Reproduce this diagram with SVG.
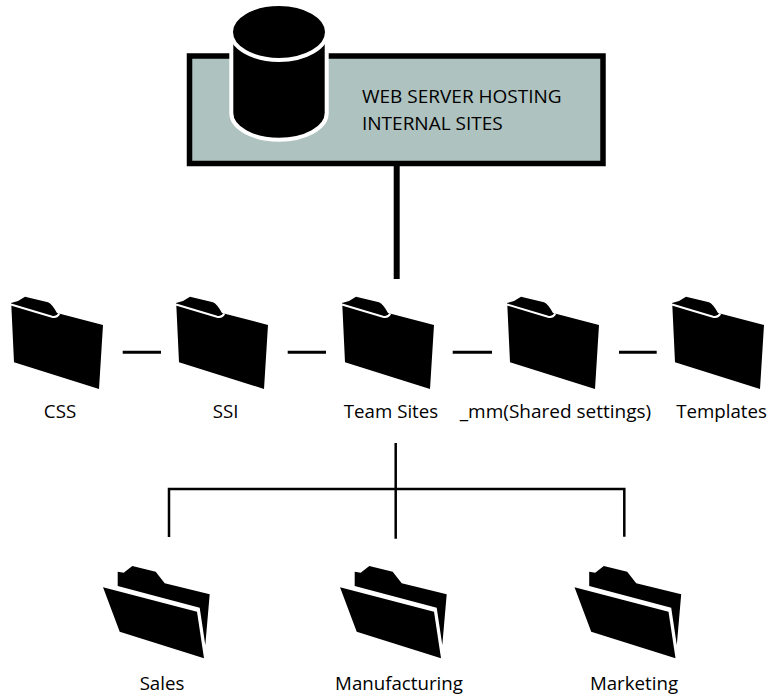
<svg xmlns="http://www.w3.org/2000/svg" width="769" height="696" viewBox="0 0 769 696">
<style>
text{font-family:"Open Sans","Noto Sans","Liberation Sans",sans-serif;font-size:18.700px;fill:#000}
.c{stroke:#000;fill:none}
.lbl{text-anchor:middle}
.w{font-size:19px}
</style>
<defs>
<g id="closed">
<path d="M11 303L18 301L25 296.700L48 302.300Q52 304 57 313L103 325L99 389L14 362.300L11.300 305Z" fill="#000"/>
<path d="M11 304.500L52 316.700Q57 318 59.300 313.500" fill="none" stroke="#fff" stroke-width="2"/>
</g>
<g id="open">
<path d="M117.700 571.700L123.700 572.700L132.300 566L155.700 571.700L164.700 583.300L209.700 594.300L205.300 645L199.700 607.700L117.700 586Z" fill="#000"/>
<path d="M103 587.300L197 611.700L204 658.300L119.700 631.700Z" fill="#000"/>
</g>
</defs>
<g id="connectors">
<path class="c" stroke-width="6" d="M396.700 165V279"/>
<path class="c" stroke-width="3" d="M122.700 352.300H161M287.700 352.300H326M452.700 352.300H492M619 352.300H656.700"/>
<path class="c" stroke-width="2.500" d="M395.700 443V538.700M169 537V489H624.300V536.700"/>
</g>
<g id="server">
<rect x="189.500" y="56" width="413.500" height="107.500" fill="#aec2bf" stroke="#000" stroke-width="5.500"/>
<path d="M231.300 33V113C231.300 128 253 139.700 279 139.700C305 139.700 326.700 128 326.700 113V33Z" fill="#000" stroke="#fff" stroke-width="4"/>
<ellipse cx="279" cy="32" rx="48" ry="28" fill="#000" stroke="#fff" stroke-width="4"/>
<text class="w" x="362" y="103.300">WEB SERVER HOSTING</text>
<text class="w" x="362" y="130">INTERNAL SITES</text>
</g>
<g id="css"><use href="#closed"/><text class="lbl" x="60" y="418.300">CSS</text></g>
<g id="ssi"><use href="#closed" x="165"/><text class="lbl" x="225.500" y="418.300">SSI</text></g>
<g id="team-sites"><use href="#closed" x="331"/><text class="lbl" x="391" y="418.300">Team Sites</text></g>
<g id="mm"><use href="#closed" x="496"/><text class="lbl w" x="555.500" y="418.300">_mm(Shared settings)</text></g>
<g id="templates"><use href="#closed" x="661"/><text class="lbl" x="721.500" y="418.300">Templates</text></g>
<g id="sales"><use href="#open"/><text class="lbl" x="162" y="690">Sales</text></g>
<g id="manufacturing"><use href="#open" x="237"/><text class="lbl" x="399" y="690">Manufacturing</text></g>
<g id="marketing"><use href="#open" x="471.500"/><text class="lbl" x="634" y="690">Marketing</text></g>
</svg>
